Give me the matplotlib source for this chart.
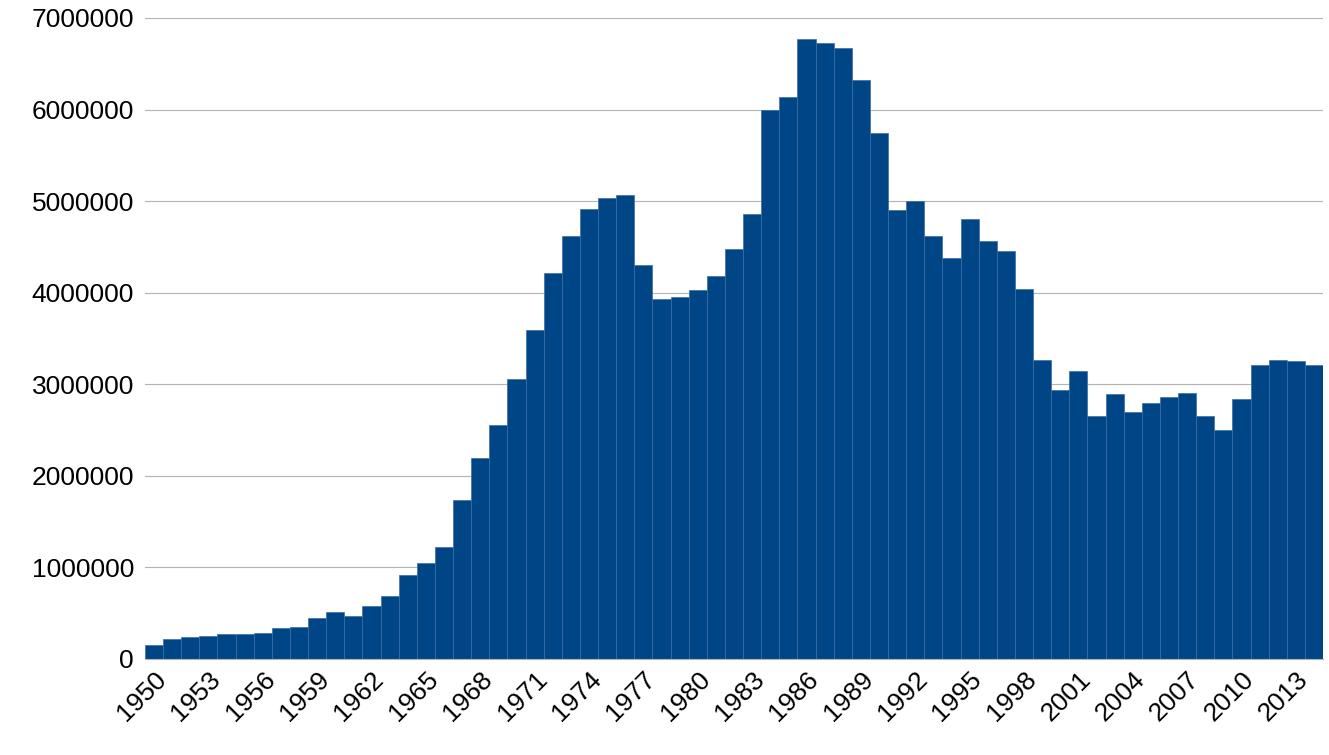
import matplotlib
matplotlib.use("Agg")
import matplotlib.pyplot as plt

years = list(range(1950, 2015))
values = [150000,220000,240000,250000,270000,270000,280000,340000,350000,450000,
          510000,470000,580000,690000,920000,1050000,1220000,1740000,2200000,2550000,
          3060000,3590000,4220000,4620000,4910000,5030000,5070000,4300000,3930000,3950000,
          4030000,4180000,4480000,4860000,5990000,6140000,6770000,6730000,6670000,6320000,
          5740000,4900000,5000000,4620000,4380000,4810000,4560000,4460000,4040000,3270000,
          2940000,3140000,2650000,2890000,2700000,2800000,2860000,2910000,2650000,2500000,
          2840000,3210000,3270000,3250000,3210000]
tick_years = list(range(1950, 2015, 3))

plt.rcParams['font.family'] = ['Liberation Sans', 'DejaVu Sans']
fig = plt.figure(figsize=(13.29, 7.55), dpi=100)
ax = fig.add_axes([145/1329, 1-659/755, (1323-145)/1329, (659-18)/755])
ax.bar(years, values, width=1.0, color='#004586', edgecolor='#3a6ea5', linewidth=0.5, zorder=2)
ax.set_xlim(1949.5, 2014.5)
ax.set_ylim(0, 7000000)
ax.set_yticks(range(0, 7000001, 1000000))
ax.set_yticklabels([str(v) for v in range(0, 7000001, 1000000)], fontsize=19)
ax.set_xticks(tick_years)
ax.set_xticklabels([str(y) for y in tick_years], rotation=45, ha='right', rotation_mode='anchor', fontsize=19)
ax.grid(axis='y', color='#b3b3b3', linewidth=0.8, zorder=0)
for s in ['top', 'right', 'left']:
    ax.spines[s].set_visible(False)
ax.spines['bottom'].set_color('#b3b3b3')
ax.tick_params(axis='y', length=0, pad=8)
ax.tick_params(axis='x', length=0, pad=6)
fig.savefig('out.png', dpi=100)
